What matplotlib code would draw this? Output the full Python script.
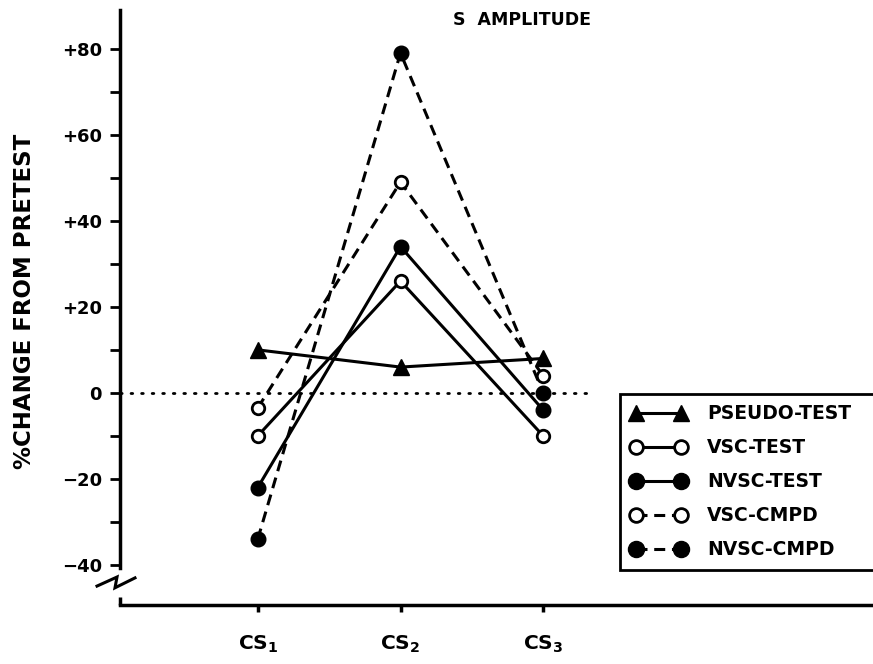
import matplotlib
matplotlib.use("Agg")
import matplotlib.pyplot as plt

plt.rcParams['font.family'] = ['DejaVu Sans']
plt.rcParams['font.weight'] = 'bold'
plt.rcParams['mathtext.fontset'] = 'custom'
plt.rcParams['mathtext.rm'] = 'DejaVu Sans:bold'
plt.rcParams['mathtext.it'] = 'DejaVu Sans:bold'
plt.rcParams['mathtext.bf'] = 'DejaVu Sans:bold'

# Stimulus positions and labels
stimuli = [1, 2, 3]
stimulus_labels = [r'CS$_1$', r'CS$_2$', r'CS$_3$']

# Percent change from pretest for each group
pseudo_test = [10, 6, 8]
vsc_test = [-10, 26, -10]
nvsc_test = [-22, 34, -4]
vsc_cmpd = [-3.5, 49, 4]
nvsc_cmpd = [-34, 79, 0]

series_names = ['PSEUDO-TEST', 'VSC-TEST', 'NVSC-TEST', 'VSC-CMPD', 'NVSC-CMPD']

y_major = [-40, -20, 0, 20, 40, 60, 80]
y_major_labels = ['\u221240', '\u221220', '0', '+20', '+40', '+60', '+80']
y_minor = [-30, -10, 10, 30, 50, 70]

fig = plt.figure(figsize=(8.73, 6.64), dpi=100)
ax = fig.add_axes([120 / 873, 59 / 664, 753 / 873, 595 / 664])
ax.set_xlim(0.035, 5.31)
ax.set_ylim(-49.3, 89)

dash = (0, (3.6, 2.2))
styles = [
    dict(marker='^', mfc='black', mec='black', ms=11, ls='-'),
    dict(marker='o', mfc='white', mec='black', ms=9, mew=2, ls='-'),
    dict(marker='o', mfc='black', mec='black', ms=10.5, ls='-'),
    dict(marker='o', mfc='white', mec='black', ms=9, mew=2, ls=dash),
    dict(marker='o', mfc='black', mec='black', ms=10.5, ls=dash),
]
data = [pseudo_test, vsc_test, nvsc_test, vsc_cmpd, nvsc_cmpd]

handles = []
for vals, st, name in zip(data, styles, series_names):
    line, = ax.plot(stimuli, vals, color='black', lw=2.2, label=name, zorder=3, **st)
    handles.append(line)

# Dotted zero reference line
ax.plot([0.035, 3.36], [0, 0], color='black', lw=2, ls=(0, (0.6, 3.2)),
        dash_capstyle='round', zorder=1)

# Spines
for s in ['top', 'right']:
    ax.spines[s].set_visible(False)
ax.spines['left'].set_linewidth(2.5)
ax.spines['bottom'].set_linewidth(2.5)
ax.spines['left'].set_bounds(-40.6, 89)

# Lower stub of the y axis below the break
ax.plot([0.035, 0.035], [-47.4, -49.3], color='black', lw=2.5, clip_on=False,
        solid_capstyle='butt')
# Axis break mark
ax.plot([-0.126, 0.014, 0.000, 0.140], [-44.9, -42.8, -45.3, -43.0],
        color='black', lw=2.2, clip_on=False, solid_joinstyle='miter')

ax.set_xticks(stimuli)
ax.set_xticklabels(stimulus_labels, fontsize=14.5, fontweight='bold')
ax.tick_params(axis='x', length=5, width=2.5, direction='out', pad=16)

ax.set_yticks(y_major)
ax.set_yticklabels(y_major_labels, fontsize=13, fontweight='bold')
ax.set_yticks(y_minor, minor=True)
ax.tick_params(axis='y', which='both', length=7, width=2, direction='out', pad=6)

fig.text(25 / 873, 1 - 301 / 664, '%CHANGE FROM PRETEST', rotation=90,
         ha='center', va='center', fontsize=16.5, fontweight='bold')

fig.text(522 / 873, 1 - 20 / 664, 'S  AMPLITUDE', ha='center', va='center',
         fontsize=12.5, fontweight='bold')

leg = ax.legend(handles=handles, loc='upper left', mode='expand',
                bbox_to_anchor=(620 / 873, 1 - 394 / 664, 262 / 873, 0.0),
                bbox_transform=fig.transFigure,
                numpoints=2, handlelength=3.0, handletextpad=1.1, labelspacing=0.8,
                fancybox=False, edgecolor='black', framealpha=1,
                prop={'weight': 'bold', 'size': 13.5}, borderpad=0.55, borderaxespad=0,
                markerscale=1.1)
leg.get_frame().set_linewidth(2)

fig.savefig('out.png', dpi=100)
